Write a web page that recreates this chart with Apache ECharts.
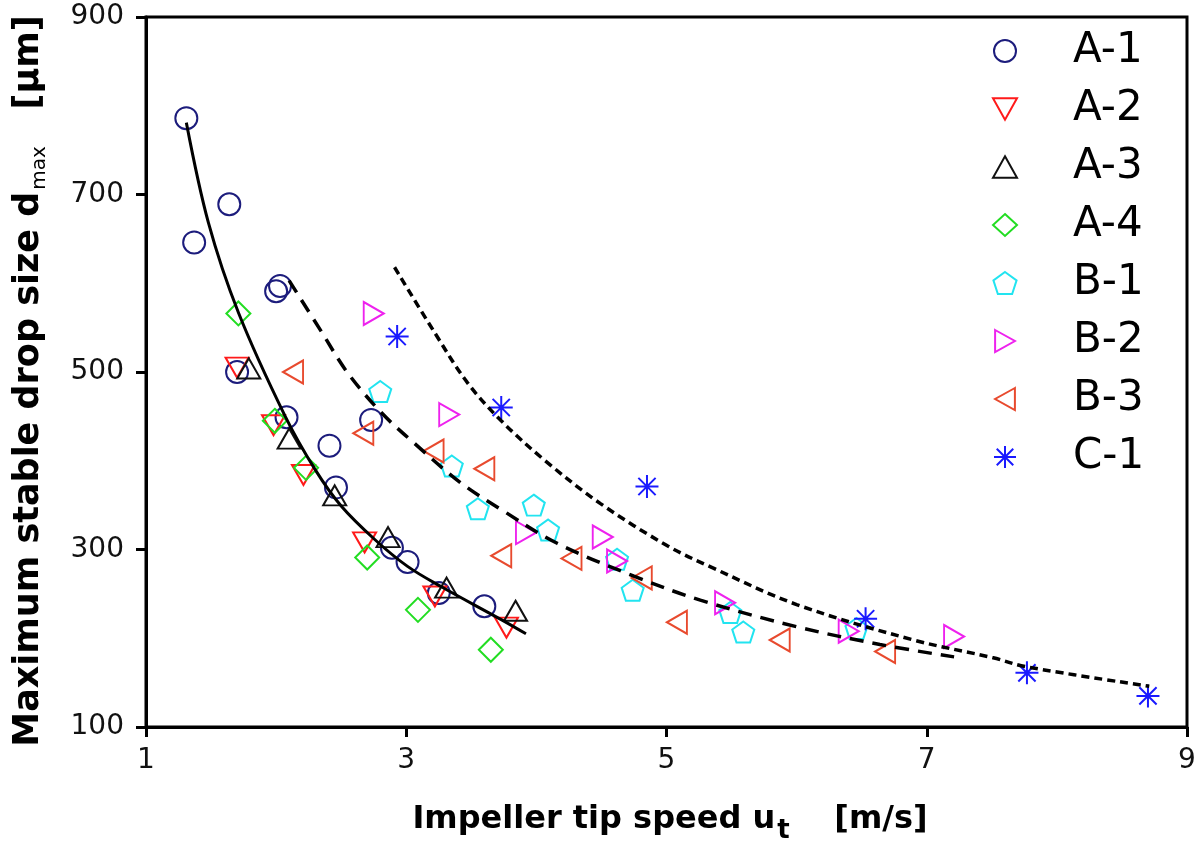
<!DOCTYPE html>
<html>
<head>
<meta charset="utf-8">
<script src="https://cdn.jsdelivr.net/npm/echarts@6/dist/echarts.min.js"></script>
<style>html,body{margin:0;padding:0;background:#fff}#c{width:1200px;height:849px}</style>
</head>
<body>
<div id="c"></div>
<script>
// ---- data ----
const seriesNames = ['A-1','A-2','A-3','A-4','B-1','B-2','B-3','C-1'];
const a1 = [[1.31,786],[1.37,646],[1.64,689],[1.70,500],[2.00,591],[2.03,597],[2.08,449],[2.41,417],[2.46,370],[2.73,446],[2.89,302],[3.01,286],[3.25,251],[3.60,236]];
const a2 = [[1.70,505],[1.98,440],[2.21,384],[2.68,308],[3.22,247],[3.77,212]];
const a3 = [[1.79,504],[2.10,425],[2.45,361],[2.86,314],[3.31,257],[3.84,231]];
const a4 = [[1.71,566],[1.99,445],[2.23,392],[2.70,291],[3.09,232],[3.65,187]];
const b1 = [[2.80,478],[3.35,394],[3.55,346],[3.98,350],[4.09,322],[4.62,289],[4.74,254],[5.49,229],[5.59,207],[6.46,211]];
const b2 = [[2.75,566],[3.33,452],[3.92,319],[4.51,314],[4.62,287],[5.45,240],[6.40,208],[7.21,202]];
const b3 = [[2.13,500],[2.67,431],[3.21,411],[3.60,391],[3.73,293],[4.27,290],[4.81,268],[5.08,218],[5.87,198],[6.68,185]];
const c1 = [[2.93,540],[3.73,460],[4.85,371],[6.53,222],[7.77,161],[8.70,135]];
// fitted curves
const curveA = [[1.31,781],[1.48,668],[1.71,567],[2.07,450],[2.30,390],[2.50,349],[2.76,311],[3.01,281],[3.27,258],[3.73,221],[3.92,205]];
const curveB = [[2.10,603],[2.35,545],[2.55,499],[2.81,454],[3.06,420],[3.42,375],[3.73,345],[4.16,307],[4.75,270],[5.26,243],[6.00,213],[6.64,193],[7.21,179]];
const curveC = [[2.91,618],[3.22,544],[3.47,488],[3.73,445],[4.06,401],[4.49,352],[5.01,304],[5.36,279],[6.00,238],[6.90,198],[7.51,178],[7.76,168],[8.71,146]];
const xTicks = [1,3,5,7,9];
const yTicks = [100,300,500,700,900];

const pointSets = [a1,a2,a3,a4,b1,b2,b3,c1];
const colors = ['#1c1c7c','#ff1a1a','#111111','#22dd22','#22e4f0','#ee22ee','#e84a2e','#1a1aff'];
const symbols = [
  'circle',
  'path://M0,0L20,0L10,18Z',
  'path://M10,0L20,18L0,18Z',
  'diamond',
  'path://M50,0L97.6,34.5L79.4,90.5L20.6,90.5L2.4,34.5Z',
  'path://M0,0L18,10L0,20Z',
  'path://M18,0L0,10L18,20Z',
  'path://M10,0L10,20M0,10L20,10M2.5,2.5L17.5,17.5M2.5,17.5L17.5,2.5'
];
const sizes = [22,[23,20],[23,20],24,[22,21],[20,23],[20,23],23];

const FONT = 'DejaVu Sans';
const series = [];
pointSets.forEach((d,i)=>{
  series.push({
    name: seriesNames[i], type:'scatter', data:d,
    symbol: symbols[i], symbolSize: sizes[i],
    itemStyle:{color:'rgba(0,0,0,0)', borderColor:colors[i], borderWidth:2, opacity:1},
    z:2
  });
});
[[curveA,'solid',3],[curveB,[14,9],3.5],[curveC,[8,5],3.5]].forEach(([d,t,w])=>{
  series.push({type:'line', data:d, smooth:0.35, showSymbol:false, symbol:'none',
    lineStyle:{color:'#000', width:w, type:t}, z:3, silent:true});
});

const chart = echarts.init(document.getElementById('c'), null, {renderer:'canvas'});
chart.setOption({
  animation:false,
  backgroundColor:'#fff',
  grid:{left:146, right:13, top:17, bottom:122, show:true, borderColor:'#000', borderWidth:3, backgroundColor:'rgba(0,0,0,0)'},
  xAxis:{type:'value', min:xTicks[0], max:xTicks[xTicks.length-1], interval:2,
    axisLine:{lineStyle:{color:'#000', width:3}},
    axisTick:{show:true, inside:false, length:10, lineStyle:{width:3, color:'#000'}},
    axisLabel:{fontFamily:FONT, fontSize:28, color:'#111', margin:20},
    splitLine:{show:false}},
  yAxis:{type:'value', min:yTicks[0], max:yTicks[yTicks.length-1], interval:200,
    axisLine:{lineStyle:{color:'#000', width:3}},
    axisTick:{show:true, inside:false, length:10, lineStyle:{width:3, color:'#000'}},
    axisLabel:{fontFamily:FONT, fontSize:28, color:'#111', margin:22},
    splitLine:{show:false}},
  legend:{
    orient:'vertical', left:987, top:23, itemWidth:24, itemHeight:22, itemGap:12,
    data: seriesNames,
    textStyle:{fontFamily:FONT, fontSize:42, color:'#000', lineHeight:46, padding:[0,0,0,51]},
    inactiveColor:'#ccc'
  },
  graphic:[
    {type:'text', x:670, y:820, style:{
      text:'{a|Impeller tip speed u}{s|t}{a|    [m/s]}',
      align:'center', verticalAlign:'middle',
      rich:{a:{fontFamily:FONT, fontWeight:'bold', fontSize:32, color:'#000'},
            s:{fontFamily:FONT, fontWeight:'bold', fontSize:26, color:'#000', padding:[22,0,0,2]}}
    }},
    {type:'text', x:29, y:381, rotation:Math.PI/2, style:{
      text:'{a|Maximum stable drop size d}{s|max}{a|   [µm]}',
      align:'center', verticalAlign:'middle',
      rich:{a:{fontFamily:FONT, fontWeight:'bold', fontSize:35, color:'#000'},
            s:{fontFamily:FONT, fontWeight:'normal', fontSize:20, color:'#000', padding:[22,0,0,2]}}
    }}
  ],
  series: series
});
</script>
</body>
</html>
